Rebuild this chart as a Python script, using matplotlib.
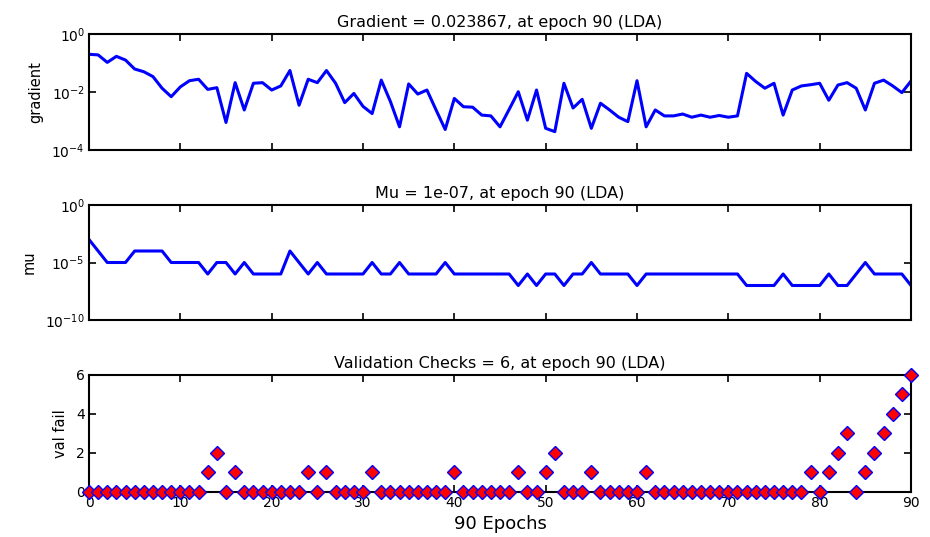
import matplotlib
matplotlib.use("Agg")
import matplotlib.pyplot as plt
import numpy as np
from matplotlib.ticker import FixedLocator, NullLocator

epochs = list(range(91))

gradient = [0.20, 0.19, 0.105, 0.17, 0.126, 0.062, 0.050, 0.034, 0.0135, 0.0069,
            0.015, 0.0245, 0.0275, 0.0123, 0.0141, 0.00089, 0.021, 0.0024, 0.020, 0.021,
            0.0117, 0.0162, 0.055, 0.0035, 0.0275, 0.021, 0.055, 0.020, 0.0043, 0.0089,
            0.0032, 0.0018, 0.0257, 0.0047, 0.00063, 0.019, 0.0085, 0.0117, 0.0024, 0.00051,
            0.006, 0.0031, 0.0030, 0.0016, 0.0015, 0.00063, 0.0025, 0.0102, 0.00107, 0.0117,
            0.00056, 0.00043, 0.020, 0.0028, 0.0056, 0.00056, 0.0041, 0.0024, 0.00135, 0.00095,
            0.0245, 0.00063, 0.0024, 0.0015, 0.0015, 0.00174, 0.00135, 0.0016, 0.00135, 0.00155,
            0.00135, 0.0015, 0.044, 0.023, 0.0135, 0.020, 0.0016, 0.0117, 0.0162, 0.0178,
            0.020, 0.0052, 0.0174, 0.021, 0.0135, 0.0024, 0.020, 0.0257, 0.0162, 0.0095,
            0.023867]

mu = [1e-3, 1e-4, 1e-5, 1e-5, 1e-5, 1e-4, 1e-4, 1e-4, 1e-4, 1e-5,
      1e-5, 1e-5, 1e-5, 1e-6, 1e-5, 1e-5, 1e-6, 1e-5, 1e-6, 1e-6,
      1e-6, 1e-6, 1e-4, 1e-5, 1e-6, 1e-5, 1e-6, 1e-6, 1e-6, 1e-6,
      1e-6, 1e-5, 1e-6, 1e-6, 1e-5, 1e-6, 1e-6, 1e-6, 1e-6, 1e-5,
      1e-6, 1e-6, 1e-6, 1e-6, 1e-6, 1e-6, 1e-6, 1e-7, 1e-6, 1e-7,
      1e-6, 1e-6, 1e-7, 1e-6, 1e-6, 1e-5, 1e-6, 1e-6, 1e-6, 1e-6,
      1e-7, 1e-6, 1e-6, 1e-6, 1e-6, 1e-6, 1e-6, 1e-6, 1e-6, 1e-6,
      1e-6, 1e-6, 1e-7, 1e-7, 1e-7, 1e-7, 1e-6, 1e-7, 1e-7, 1e-7,
      1e-7, 1e-6, 1e-7, 1e-7, 1e-6, 1e-5, 1e-6, 1e-6, 1e-6, 1e-6,
      1e-7]

val_fail = [0, 0, 0, 0, 0, 0, 0, 0, 0, 0,
            0, 0, 0, 1, 2, 0, 1, 0, 0, 0,
            0, 0, 0, 0, 1, 0, 1, 0, 0, 0,
            0, 1, 0, 0, 0, 0, 0, 0, 0, 0,
            1, 0, 0, 0, 0, 0, 0, 1, 0, 0,
            1, 2, 0, 0, 0, 1, 0, 0, 0, 0,
            0, 1, 0, 0, 0, 0, 0, 0, 0, 0,
            0, 0, 0, 0, 0, 0, 0, 0, 0, 1,
            0, 1, 2, 3, 0, 1, 2, 3, 4, 5,
            6]

titles = ["Gradient = 0.023867, at epoch 90 (LDA)",
          "Mu = 1e-07, at epoch 90 (LDA)",
          "Validation Checks = 6, at epoch 90 (LDA)"]
ylabels = ["gradient", "mu", "val fail"]
xticks = list(range(0, 91, 10))

fig = plt.figure(figsize=(9.3, 5.37), dpi=100)
W, H = 930, 537
left, right = 89, 911
boxes = [(34, 150), (205, 320), (375, 491.5)]
axes = []
for top, bot in boxes:
    ax = fig.add_axes([left / W, 1 - bot / H, (right - left) / W, (bot - top) / H])
    axes.append(ax)

blue = (0, 0, 1)

ax1, ax2, ax3 = axes
ax1.semilogy(epochs, gradient, color=blue, lw=2.2)
ax1.set_ylim(1e-4, 1e0)
ax1.yaxis.set_major_locator(FixedLocator([1e-4, 1e-2, 1e0]))

ax2.semilogy(epochs, mu, color=blue, lw=2.2)
ax2.set_ylim(1e-10, 1e0)
ax2.yaxis.set_major_locator(FixedLocator([1e-10, 1e-5, 1e0]))

ax3.plot(epochs, val_fail, linestyle='none', marker='D', markersize=7,
         markerfacecolor='red', markeredgecolor=blue, markeredgewidth=1.0,
         clip_on=False, zorder=5)
ax3.set_ylim(0, 6)
ax3.set_yticks([0, 2, 4, 6])

for i, ax in enumerate(axes):
    ax.set_xlim(0, 90)
    ax.set_xticks(xticks)
    ax.yaxis.set_minor_locator(NullLocator())
    ax.xaxis.set_minor_locator(NullLocator())
    ax.tick_params(direction='in', top=True, right=True, length=5, width=1.2,
                   labelsize=10, pad=3)
    for s in ax.spines.values():
        s.set_linewidth(1.5)
    ax.set_title(titles[i], fontsize=11.5, pad=5)
    ax.set_ylabel(ylabels[i], fontsize=10.5, labelpad=6)
    if i < 2:
        ax.set_xticklabels([])

ax3.set_xlabel("90 Epochs", fontsize=13, labelpad=4)

fig.savefig("out.png", dpi=100)
